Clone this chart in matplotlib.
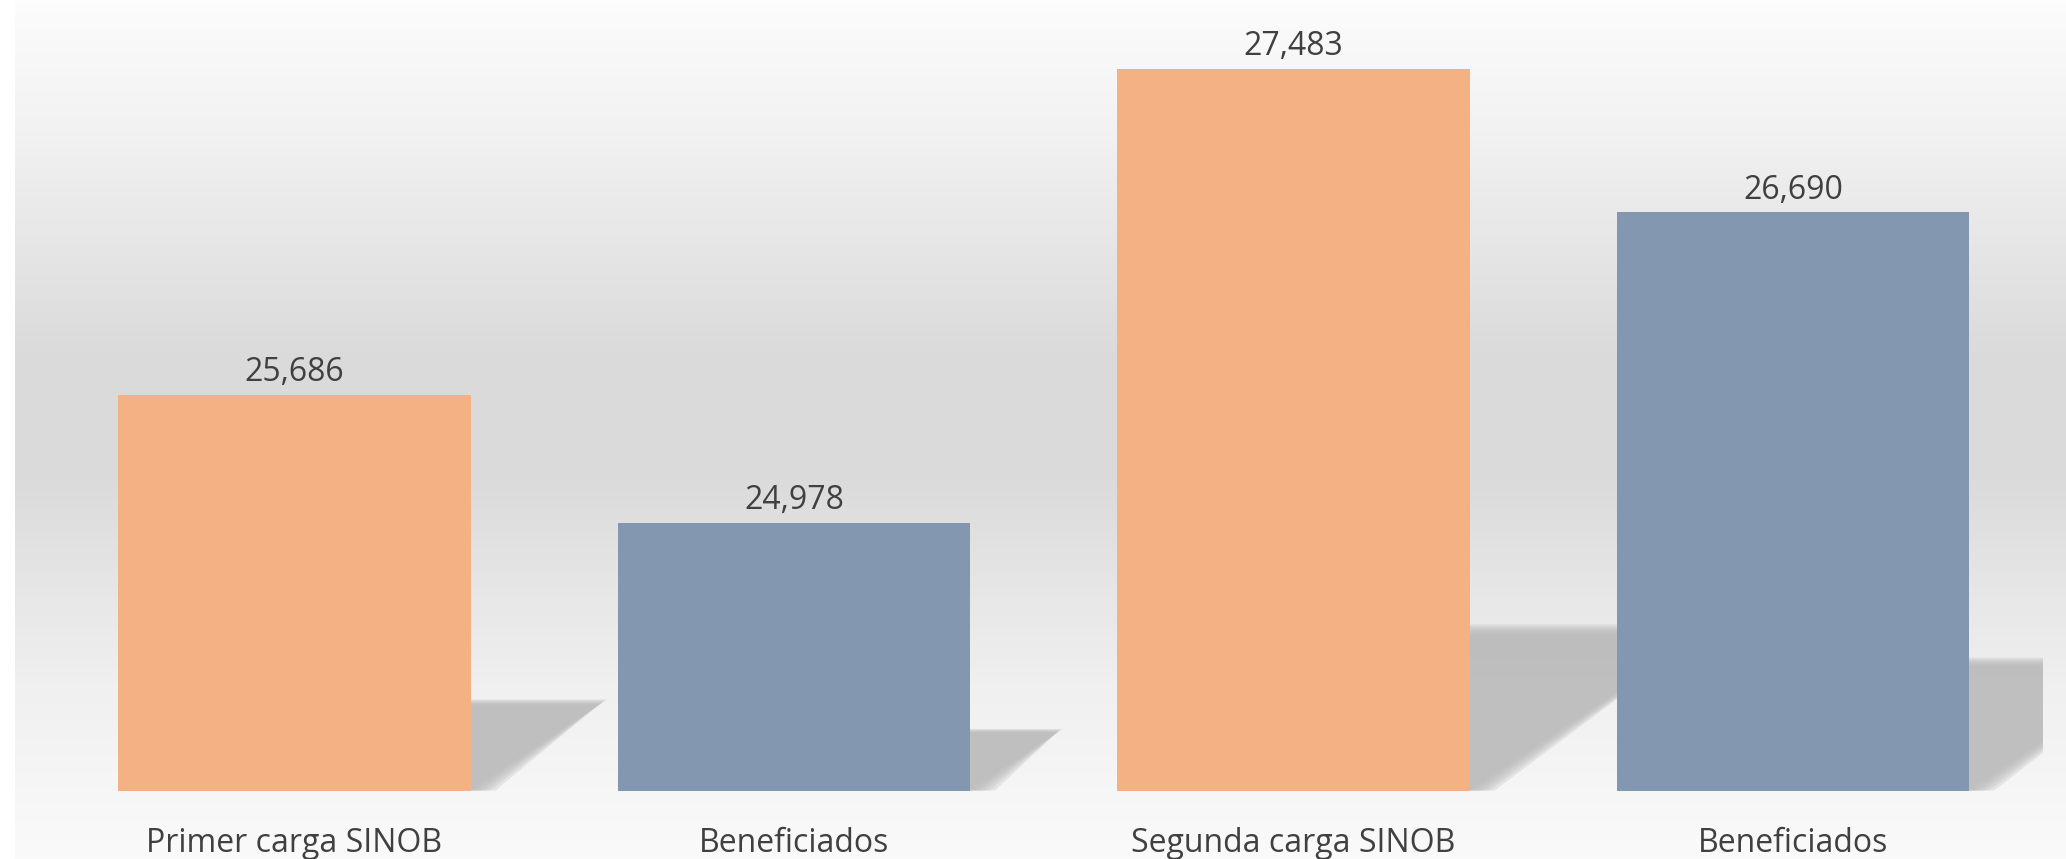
import numpy as np
import matplotlib.pyplot as plt
from matplotlib.patches import Polygon
from matplotlib.colors import LinearSegmentedColormap

# chart data
categories = ['Primer carga SINOB', 'Beneficiados', 'Segunda carga SINOB', 'Beneficiados']
values = [25686, 24978, 27483, 26690]
bar_colors = ['#F4B183', '#8497B0', '#F4B183', '#8497B0']

Y_MIN, Y_MAX = 23504, 27861
BAR_W = 0.705

plt.rcParams['font.family'] = ['Open Sans', 'DejaVu Sans']

fig = plt.figure(figsize=(20.66, 8.59), dpi=100)
fig.patch.set_facecolor('white')

# gradient background (chart area)
bg = fig.add_axes([15 / 2066, 0, 1 - 15 / 2066, 1], zorder=0)
grad = LinearSegmentedColormap.from_list(
    'bg', [(0.0, '#fcfcfc'), (0.15, '#f2f2f2'), (0.42, '#dadada'),
           (0.56, '#dbdbdb'), (0.8, '#f0f0f0'), (1.0, '#fafafa')])
bg.imshow(np.linspace(0, 1, 256).reshape(-1, 1), aspect='auto', cmap=grad,
          extent=[0, 1, 1, 0])
bg.axis('off')

ax = fig.add_axes([44.6 / 2066, (859 - 790.5) / 859, (2043 - 44.6) / 2066, 790.5 / 859], zorder=1)
ax.set_facecolor('none')
x = np.arange(len(categories))

# perspective shadows behind bars
for xi, v in zip(x, values):
    h = v - Y_MIN
    dy = 0.23 * h
    dx = h * 1.25e-4
    for k in range(6):
        grow = 1 - k * 0.012
        pts = [(xi - BAR_W / 2, Y_MIN), (xi + BAR_W / 2 + 0.01 * k, Y_MIN),
               (xi + BAR_W / 2 + dx * grow, Y_MIN + dy * grow),
               (xi - BAR_W / 2 + dx * grow, Y_MIN + dy * grow)]
        ax.add_patch(Polygon(pts, closed=True, facecolor='#b8b8b8', edgecolor='none',
                             alpha=0.28, zorder=1))

ax.bar(x, values, width=BAR_W, color=bar_colors, zorder=3)

for xi, v in zip(x, values):
    ax.annotate(f'{v:,}', (xi, v), xytext=(0, 10), textcoords='offset points',
                ha='center', va='baseline', fontsize=23, color='#404040', zorder=4)

ax.set_xlim(-0.5, 3.5)
ax.set_ylim(Y_MIN, Y_MAX)
ax.set_xticks(x)
ax.set_xticklabels(categories, fontsize=23, color='#404040')
ax.tick_params(axis='x', length=0, pad=26)
ax.set_yticks([])
for sp in ax.spines.values():
    sp.set_visible(False)

fig.savefig('out.png', dpi=100, facecolor=fig.get_facecolor())
